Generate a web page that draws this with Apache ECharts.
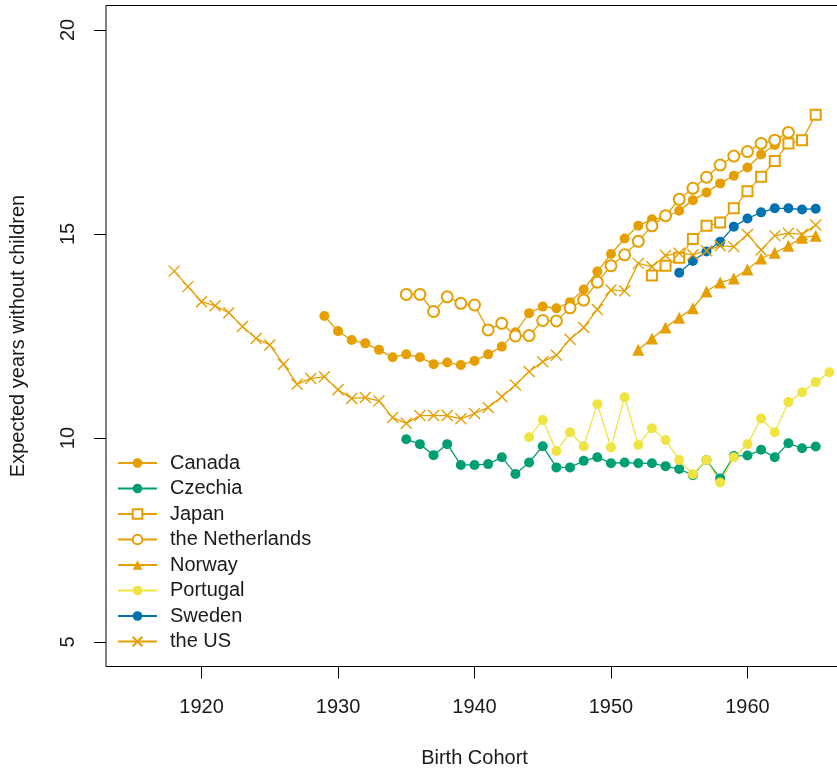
<!DOCTYPE html>
<html>
<head>
<meta charset="utf-8">
<title>Expected years without children</title>
<script src="https://cdn.jsdelivr.net/npm/echarts@6/dist/echarts.min.js"></script>
<style>
  html, body { margin: 0; padding: 0; background: #fff; }
  #chart { width: 837px; height: 769px; }
</style>
</head>
<body>
<div id="chart"></div>
<script>
// cohort years and values
const canadaYears = [1929, 1930, 1931, 1932, 1933, 1934, 1935, 1936, 1937, 1938, 1939, 1940, 1941, 1942, 1943, 1944, 1945, 1946, 1947, 1948, 1949, 1950, 1951, 1952, 1953, 1954, 1955, 1956, 1957, 1958, 1959, 1960, 1961, 1962];
const canadaValues = [12.99, 12.62, 12.40, 12.32, 12.16, 11.98, 12.05, 11.98, 11.81, 11.85, 11.79, 11.89, 12.05, 12.24, 12.59, 13.06, 13.22, 13.18, 13.33, 13.64, 14.08, 14.51, 14.89, 15.20, 15.36, 15.41, 15.57, 15.83, 16.02, 16.24, 16.43, 16.63, 16.95, 17.18];

const czechiaYears = [1935, 1936, 1937, 1938, 1939, 1940, 1941, 1942, 1943, 1944, 1945, 1946, 1947, 1948, 1949, 1950, 1951, 1952, 1953, 1954, 1955, 1956, 1957, 1958, 1959, 1960, 1961, 1962, 1963, 1964, 1965];
const czechiaValues = [9.97, 9.85, 9.58, 9.85, 9.34, 9.34, 9.36, 9.53, 9.12, 9.40, 9.80, 9.28, 9.28, 9.44, 9.53, 9.38, 9.40, 9.38, 9.38, 9.31, 9.24, 9.09, 9.46, 9.01, 9.56, 9.57, 9.71, 9.53, 9.87, 9.75, 9.79];

const japanYears = [1953, 1954, 1955, 1956, 1957, 1958, 1959, 1960, 1961, 1962, 1963, 1964, 1965];
const japanValues = [13.98, 14.22, 14.42, 14.88, 15.20, 15.28, 15.63, 16.05, 16.40, 16.79, 17.22, 17.30, 17.92];

const netherlandsYears = [1935, 1936, 1937, 1938, 1939, 1940, 1941, 1942, 1943, 1944, 1945, 1946, 1947, 1948, 1949, 1950, 1951, 1952, 1953, 1954, 1955, 1956, 1957, 1958, 1959, 1960, 1961, 1962, 1963];
const netherlandsValues = [13.52, 13.52, 13.10, 13.46, 13.30, 13.26, 12.65, 12.81, 12.50, 12.51, 12.88, 12.87, 13.19, 13.38, 13.82, 14.22, 14.49, 14.82, 15.20, 15.45, 15.85, 16.12, 16.39, 16.69, 16.91, 17.02, 17.22, 17.30, 17.49];

const norwayYears = [1952, 1953, 1954, 1955, 1956, 1957, 1958, 1959, 1960, 1961, 1962, 1963, 1964, 1965];
const norwayValues = [12.16, 12.44, 12.71, 12.95, 13.18, 13.59, 13.81, 13.91, 14.13, 14.40, 14.54, 14.71, 14.91, 14.96];

const portugalYears = [1944, 1945, 1946, 1947, 1948, 1949, 1950, 1951, 1952, 1953, 1954, 1955, 1956, 1957, 1958, 1959, 1960, 1961, 1962, 1963, 1964, 1965, 1966];
const portugalValues = [10.02, 10.44, 9.68, 10.14, 9.80, 10.83, 9.77, 11.00, 9.83, 10.24, 9.95, 9.46, 9.11, 9.46, 8.91, 9.53, 9.85, 10.48, 10.14, 10.88, 11.12, 11.37, 11.61];

const swedenYears = [1955, 1956, 1957, 1958, 1959, 1960, 1961, 1962, 1963, 1964, 1965];
const swedenValues = [14.05, 14.34, 14.57, 14.81, 15.18, 15.38, 15.53, 15.63, 15.63, 15.60, 15.62];

const usYears = [1918, 1919, 1920, 1921, 1922, 1923, 1924, 1925, 1926, 1927, 1928, 1929, 1930, 1931, 1932, 1933, 1934, 1935, 1936, 1937, 1938, 1939, 1940, 1941, 1942, 1943, 1944, 1945, 1946, 1947, 1948, 1949, 1950, 1951, 1952, 1953, 1954, 1955, 1956, 1957, 1958, 1959, 1960, 1961, 1962, 1963, 1964, 1965];
const usValues = [14.09, 13.71, 13.34, 13.24, 13.07, 12.73, 12.44, 12.28, 11.81, 11.32, 11.46, 11.50, 11.18, 10.97, 10.99, 10.91, 10.50, 10.36, 10.55, 10.55, 10.55, 10.47, 10.60, 10.75, 11.01, 11.30, 11.63, 11.87, 12.03, 12.42, 12.71, 13.15, 13.63, 13.60, 14.28, 14.20, 14.47, 14.53, 14.49, 14.59, 14.71, 14.69, 14.99, 14.61, 14.96, 15.02, 14.99, 15.22];

const xTicks = [1920, 1930, 1940, 1950, 1960];
const yTicks = [5, 10, 15, 20];

const ORANGE = '#E69F00';
const GREEN = '#009E73';
const YELLOW = '#F0E442';
const BLUE = '#0072B2';
const FONT = 'Liberation Sans';
const crossPath = 'path://M0,0L10,10M10,0L0,10';

function pairs(years, values) {
    return years.map((y, i) => [y, values[i]]);
}

function makeSeries(name, years, values, color, symbol, size, extra) {
    const s = {
        name: name,
        type: 'line',
        data: pairs(years, values),
        symbol: symbol,
        symbolSize: size,
        showAllSymbol: true,
        lineStyle: { color: color, width: 1.3 },
        itemStyle: { color: color },
        emphasis: { disabled: true }
    };
    return Object.assign(s, extra || {});
}

const chart = echarts.init(document.getElementById('chart'));

const option = {
    animation: false,
    backgroundColor: '#fff',
    textStyle: { fontFamily: FONT },
    grid: {
        left: 106,
        top: 5.5,
        width: 737,
        height: 661,
        outerBoundsMode: 'none',
        containLabel: false,
        show: true,
        borderColor: '#000',
        borderWidth: 1,
        backgroundColor: 'transparent'
    },
    xAxis: {
        type: 'value',
        min: 1913,
        max: 1967,
        name: 'Birth Cohort',
        nameLocation: 'middle',
        nameGap: 82,
        nameTextStyle: { fontSize: 20, color: '#1a1a1a', fontFamily: FONT },
        axisLine: { show: false },
        splitLine: { show: false },
        axisTick: { show: true, length: 12, customValues: xTicks, lineStyle: { color: '#000', width: 1 } },
        axisLabel: {
            customValues: xTicks, margin: 31, fontSize: 20, color: '#1a1a1a', fontFamily: FONT,
            formatter: v => String(v)
        }
    },
    yAxis: {
        type: 'value',
        min: 4.4,
        max: 20.6,
        name: 'Expected years without children',
        nameLocation: 'middle',
        nameGap: 78,
        nameTextStyle: { fontSize: 20, color: '#1a1a1a', fontFamily: FONT },
        axisLine: { show: false },
        splitLine: { show: false },
        axisTick: { show: true, length: 12, customValues: yTicks, lineStyle: { color: '#000', width: 1 } },
        axisLabel: { customValues: yTicks, rotate: 90, margin: 28, fontSize: 20, color: '#1a1a1a', fontFamily: FONT }
    },
    legend: {
        orient: 'vertical',
        left: 112,
        top: 448,
        itemWidth: 39,
        itemHeight: 12,
        itemGap: 5.5,
        selectedMode: false,
        textStyle: { fontSize: 20, lineHeight: 20, color: '#1a1a1a', fontFamily: FONT, padding: [0, 0, 0, 8] },
        data: ['Canada', 'Czechia', 'Japan', 'the Netherlands', 'Norway', 'Portugal', 'Sweden', 'the US']
    },
    series: [
        makeSeries('Canada', canadaYears, canadaValues, ORANGE, 'circle', 10),
        makeSeries('Czechia', czechiaYears, czechiaValues, GREEN, 'circle', 10),
        makeSeries('Japan', japanYears, japanValues, ORANGE, 'emptyRect', 10,
            { itemStyle: { color: ORANGE, borderColor: ORANGE, borderWidth: 1.3 } }),
        makeSeries('the Netherlands', netherlandsYears, netherlandsValues, ORANGE, 'emptyCircle', 11,
            { itemStyle: { color: ORANGE, borderColor: ORANGE, borderWidth: 1.3 } }),
        makeSeries('Norway', norwayYears, norwayValues, ORANGE, 'triangle', 12),
        makeSeries('Portugal', portugalYears, portugalValues, YELLOW, 'circle', 10),
        makeSeries('Sweden', swedenYears, swedenValues, BLUE, 'circle', 10),
        makeSeries('the US', usYears, usValues, ORANGE, crossPath, 11,
            { itemStyle: { color: ORANGE, borderColor: ORANGE, borderWidth: 1.4 } })
    ]
};

chart.setOption(option);
</script>
</body>
</html>
